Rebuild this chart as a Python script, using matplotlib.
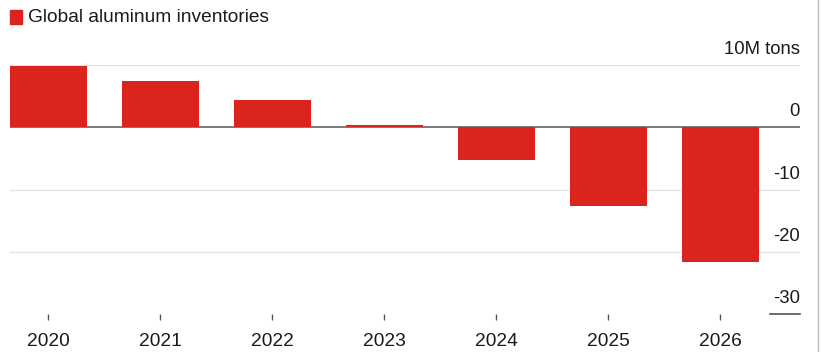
import matplotlib.pyplot as plt
from matplotlib.lines import Line2D
from matplotlib.patches import Rectangle
import matplotlib.transforms as mtransforms

plt.rcParams['font.family'] = ['Liberation Sans', 'DejaVu Sans']

years = ['2020', '2021', '2022', '2023', '2024', '2025', '2026']
inventories = [9.9, 7.5, 4.3, 0.35, -5.3, -12.7, -21.6]  # 10M tons
y_ticks = [10, 0, -10, -20, -30]
y_labels = ['10M tons', '0', '-10', '-20', '-30']

red = '#dc241f'

fig = plt.figure(figsize=(8.21, 3.52), dpi=100)
ax = fig.add_axes([10 / 821, 38 / 352, 790 / 821, 249 / 352])

x = list(range(len(years)))
ax.bar(x, inventories, width=0.6875, color=red, zorder=2)

ax.set_xlim(-0.34375, 6.71)
ax.set_ylim(-30, 10)

# gridlines
for t in y_ticks[:-1]:
    if t == 0:
        ax.axhline(0, color='#707070', lw=1.3, zorder=1.5)
    else:
        ax.axhline(t, color='#e3e3e3', lw=1.0, zorder=1)
# short baseline under the -30 label
ax.plot([0.962, 1.0], [-30, -30], transform=ax.get_yaxis_transform(),
        color='#555555', lw=1.2, clip_on=False)

# y labels sitting above their lines, right aligned
offset = mtransforms.offset_copy(ax.get_yaxis_transform(), fig=fig, x=0, y=5, units='points')
for t, lab in zip(y_ticks, y_labels):
    ax.text(1.0, t, lab, transform=offset, ha='right', va='bottom',
            fontsize=13.3, color='#1a1a1a')

ax.set_yticks([])
ax.set_xticks(x)
ax.set_xticklabels(years, fontsize=13.8, color='#1a1a1a')
ax.tick_params(axis='x', length=4, width=1, color='#555555', pad=10)
for s in ax.spines.values():
    s.set_visible(False)

# legend / title
fig.patches.append(Rectangle((10 / 821, 1 - 24 / 352), 12 / 821, 14 / 352,
                             transform=fig.transFigure, color=red))
fig.text(28 / 821, 1 - 17 / 352, 'Global aluminum inventories', fontsize=13.8,
         color='#1a1a1a', va='center', ha='left')

# right frame line
fig.add_artist(Line2D([818 / 821, 818 / 821], [0, 1], transform=fig.transFigure,
                      color='#bbbbbb', lw=1))

fig.savefig('out.png', dpi=100)
